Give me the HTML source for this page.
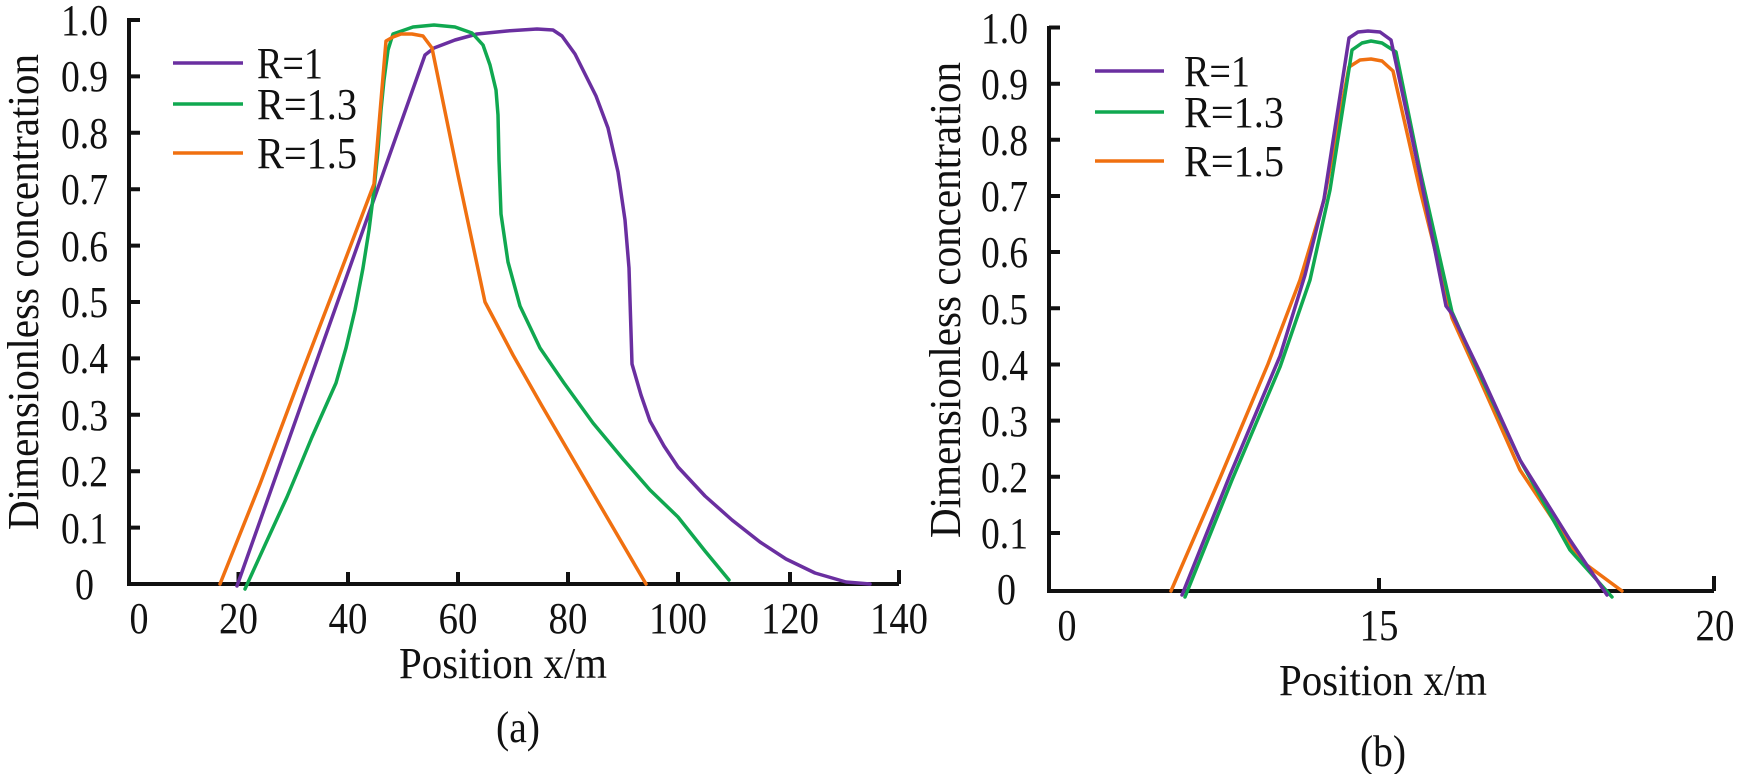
<!DOCTYPE html>
<html><head><meta charset="utf-8"><style>
html,body{margin:0;padding:0;background:#fff;}
svg{display:block;}
text{font-family:"Liberation Serif",serif;fill:#111;}
</style></head><body>
<svg width="1750" height="774" viewBox="0 0 1750 774" xmlns="http://www.w3.org/2000/svg">
<!-- LEFT CHART -->
<g stroke="#111" stroke-width="4" fill="none">
<path d="M129 18 V584 H899"/>
<path d="M129 20 H140 M129 76.4 H140 M129 132.8 H140 M129 189.2 H140 M129 245.6 H140 M129 302 H140 M129 358.4 H140 M129 414.8 H140 M129 471.2 H140 M129 527.6 H140"/>
<path d="M238.5 584 V572 M348 584 V572 M458 584 V572 M568 584 V572 M678 584 V572 M790 584 V572 M899 584 V570"/>
</g>
<g font-size="44" text-anchor="end" lengthAdjust="spacingAndGlyphs">
<text x="108" y="35" textLength="47" lengthAdjust="spacingAndGlyphs">1.0</text><text x="108" y="91" textLength="47" lengthAdjust="spacingAndGlyphs">0.9</text><text x="108" y="148" textLength="47" lengthAdjust="spacingAndGlyphs">0.8</text><text x="108" y="204" textLength="47" lengthAdjust="spacingAndGlyphs">0.7</text><text x="108" y="261" textLength="47" lengthAdjust="spacingAndGlyphs">0.6</text><text x="108" y="317" textLength="47" lengthAdjust="spacingAndGlyphs">0.5</text><text x="108" y="373" textLength="47" lengthAdjust="spacingAndGlyphs">0.4</text><text x="108" y="430" textLength="47" lengthAdjust="spacingAndGlyphs">0.3</text><text x="108" y="486" textLength="47" lengthAdjust="spacingAndGlyphs">0.2</text><text x="108" y="543" textLength="47" lengthAdjust="spacingAndGlyphs">0.1</text><text x="94" y="599" textLength="19" lengthAdjust="spacingAndGlyphs">0</text>
</g>
<g font-size="44" text-anchor="middle">
<text x="139" y="633" textLength="19" lengthAdjust="spacingAndGlyphs">0</text><text x="238.5" y="633" textLength="39" lengthAdjust="spacingAndGlyphs">20</text><text x="348" y="633" textLength="39" lengthAdjust="spacingAndGlyphs">40</text><text x="458" y="633" textLength="39" lengthAdjust="spacingAndGlyphs">60</text><text x="568" y="633" textLength="39" lengthAdjust="spacingAndGlyphs">80</text><text x="678" y="633" textLength="58" lengthAdjust="spacingAndGlyphs">100</text><text x="790" y="633" textLength="58" lengthAdjust="spacingAndGlyphs">120</text><text x="899" y="633" textLength="58" lengthAdjust="spacingAndGlyphs">140</text>
<text x="503" y="678" textLength="208" lengthAdjust="spacingAndGlyphs">Position x/m</text>
<text x="518" y="742" textLength="44" lengthAdjust="spacingAndGlyphs">(a)</text>
</g>
<text font-size="44" text-anchor="middle" textLength="476" lengthAdjust="spacingAndGlyphs" transform="translate(38,292) rotate(-90)">Dimensionless concentration</text>
<g fill="none" stroke-width="3.5" stroke-linejoin="round" stroke-linecap="round">
<polyline stroke="#6a2fa0" points="237,586 425,55 434,48 455,40 477,34 507,31 537,29 553,30 562,36 575,54 596,96 608,128 618,172 625,220 629,268 632,364 641,395 650,421 664,446 678,467 705,496 732,520 760,542 786,559 815,573 846,582 870,584"/>
<polyline stroke="#10a850" points="245,589 265,545 287,497 300,466 312,437 324,410 336,383 346,348 355,310 363,268 369,230 374,190 378,150 381,110 384,80 388,50 393,34 413,27 434,25 455,27 472,33 483,45 490,65 496,90 498,115 499,160 501,214 508,262 520,306 540,348 564,383 593,423 623,459 650,490 678,517 705,551 729,580"/>
<polyline stroke="#f07010" points="220,584 260,484 298,383 336,284 374,184 386,41 393,37 401,34 412,34 423,36 432,48 458,175 485,302 513,355 542,406 594,495 646,584"/>
</g>
<g stroke-width="3.5">
<line x1="173" y1="63" x2="243" y2="63" stroke="#6a2fa0"/>
<line x1="173" y1="104" x2="243" y2="104" stroke="#10a850"/>
<line x1="173" y1="153" x2="243" y2="153" stroke="#f07010"/>
</g>
<g font-size="44">
<text x="257" y="78" textLength="66" lengthAdjust="spacingAndGlyphs">R=1</text><text x="257" y="119" textLength="100" lengthAdjust="spacingAndGlyphs">R=1.3</text><text x="257" y="168" textLength="100" lengthAdjust="spacingAndGlyphs">R=1.5</text>
</g>

<!-- RIGHT CHART -->
<g stroke="#111" stroke-width="4" fill="none">
<path d="M1049 26 V591 H1714"/>
<path d="M1049 27.5 H1060 M1049 83.7 H1060 M1049 139.8 H1060 M1049 196 H1060 M1049 252 H1060 M1049 308.3 H1060 M1049 364.5 H1060 M1049 420.6 H1060 M1049 476.8 H1060 M1049 533 H1060"/>
<path d="M1379 591 V578 M1714 591 V576"/>
</g>
<g font-size="44" text-anchor="end">
<text x="1028" y="43" textLength="47" lengthAdjust="spacingAndGlyphs">1.0</text><text x="1028" y="99" textLength="47" lengthAdjust="spacingAndGlyphs">0.9</text><text x="1028" y="155" textLength="47" lengthAdjust="spacingAndGlyphs">0.8</text><text x="1028" y="211" textLength="47" lengthAdjust="spacingAndGlyphs">0.7</text><text x="1028" y="267" textLength="47" lengthAdjust="spacingAndGlyphs">0.6</text><text x="1028" y="324" textLength="47" lengthAdjust="spacingAndGlyphs">0.5</text><text x="1028" y="380" textLength="47" lengthAdjust="spacingAndGlyphs">0.4</text><text x="1028" y="436" textLength="47" lengthAdjust="spacingAndGlyphs">0.3</text><text x="1028" y="492" textLength="47" lengthAdjust="spacingAndGlyphs">0.2</text><text x="1028" y="548" textLength="47" lengthAdjust="spacingAndGlyphs">0.1</text><text x="1016" y="604" textLength="19" lengthAdjust="spacingAndGlyphs">0</text>
</g>
<g font-size="44" text-anchor="middle">
<text x="1067" y="640" textLength="19" lengthAdjust="spacingAndGlyphs">0</text><text x="1379" y="640" textLength="39" lengthAdjust="spacingAndGlyphs">15</text><text x="1715" y="640" textLength="39" lengthAdjust="spacingAndGlyphs">20</text>
<text x="1383" y="695" textLength="208" lengthAdjust="spacingAndGlyphs">Position x/m</text>
<text x="1383" y="766" textLength="46" lengthAdjust="spacingAndGlyphs">(b)</text>
</g>
<text font-size="44" text-anchor="middle" textLength="476" lengthAdjust="spacingAndGlyphs" transform="translate(960,300) rotate(-90)">Dimensionless concentration</text>
<g fill="none" stroke-width="3.5" stroke-linejoin="round" stroke-linecap="round">
<polyline stroke="#f07010" points="1171,591 1220,478 1268,364 1300,280 1324,200 1349,67 1360,60 1371,59 1382,61 1393,71 1420,190 1452,318 1480,380 1520,470 1580,560 1622,591"/>
<polyline stroke="#10a850" points="1185,597 1232,480 1280,367 1310,280 1330,190 1352,50 1362,43 1371,41 1382,43 1396,52 1420,170 1452,312 1480,375 1520,460 1570,550 1612,597"/>
<polyline stroke="#6a2fa0" points="1182,595 1230,475 1280,356 1305,275 1324,199 1349,38 1358,32 1368,31 1380,32 1391,40 1420,175 1446,306 1452,314 1480,372 1520,460 1570,540 1607,595"/>
</g>
<g stroke-width="3.5">
<line x1="1095" y1="71" x2="1164" y2="71" stroke="#6a2fa0"/>
<line x1="1095" y1="112" x2="1164" y2="112" stroke="#10a850"/>
<line x1="1095" y1="161" x2="1164" y2="161" stroke="#f07010"/>
</g>
<g font-size="44">
<text x="1184" y="86" textLength="66" lengthAdjust="spacingAndGlyphs">R=1</text><text x="1184" y="127" textLength="100" lengthAdjust="spacingAndGlyphs">R=1.3</text><text x="1184" y="176" textLength="100" lengthAdjust="spacingAndGlyphs">R=1.5</text>
</g>
</svg>
</body></html>
